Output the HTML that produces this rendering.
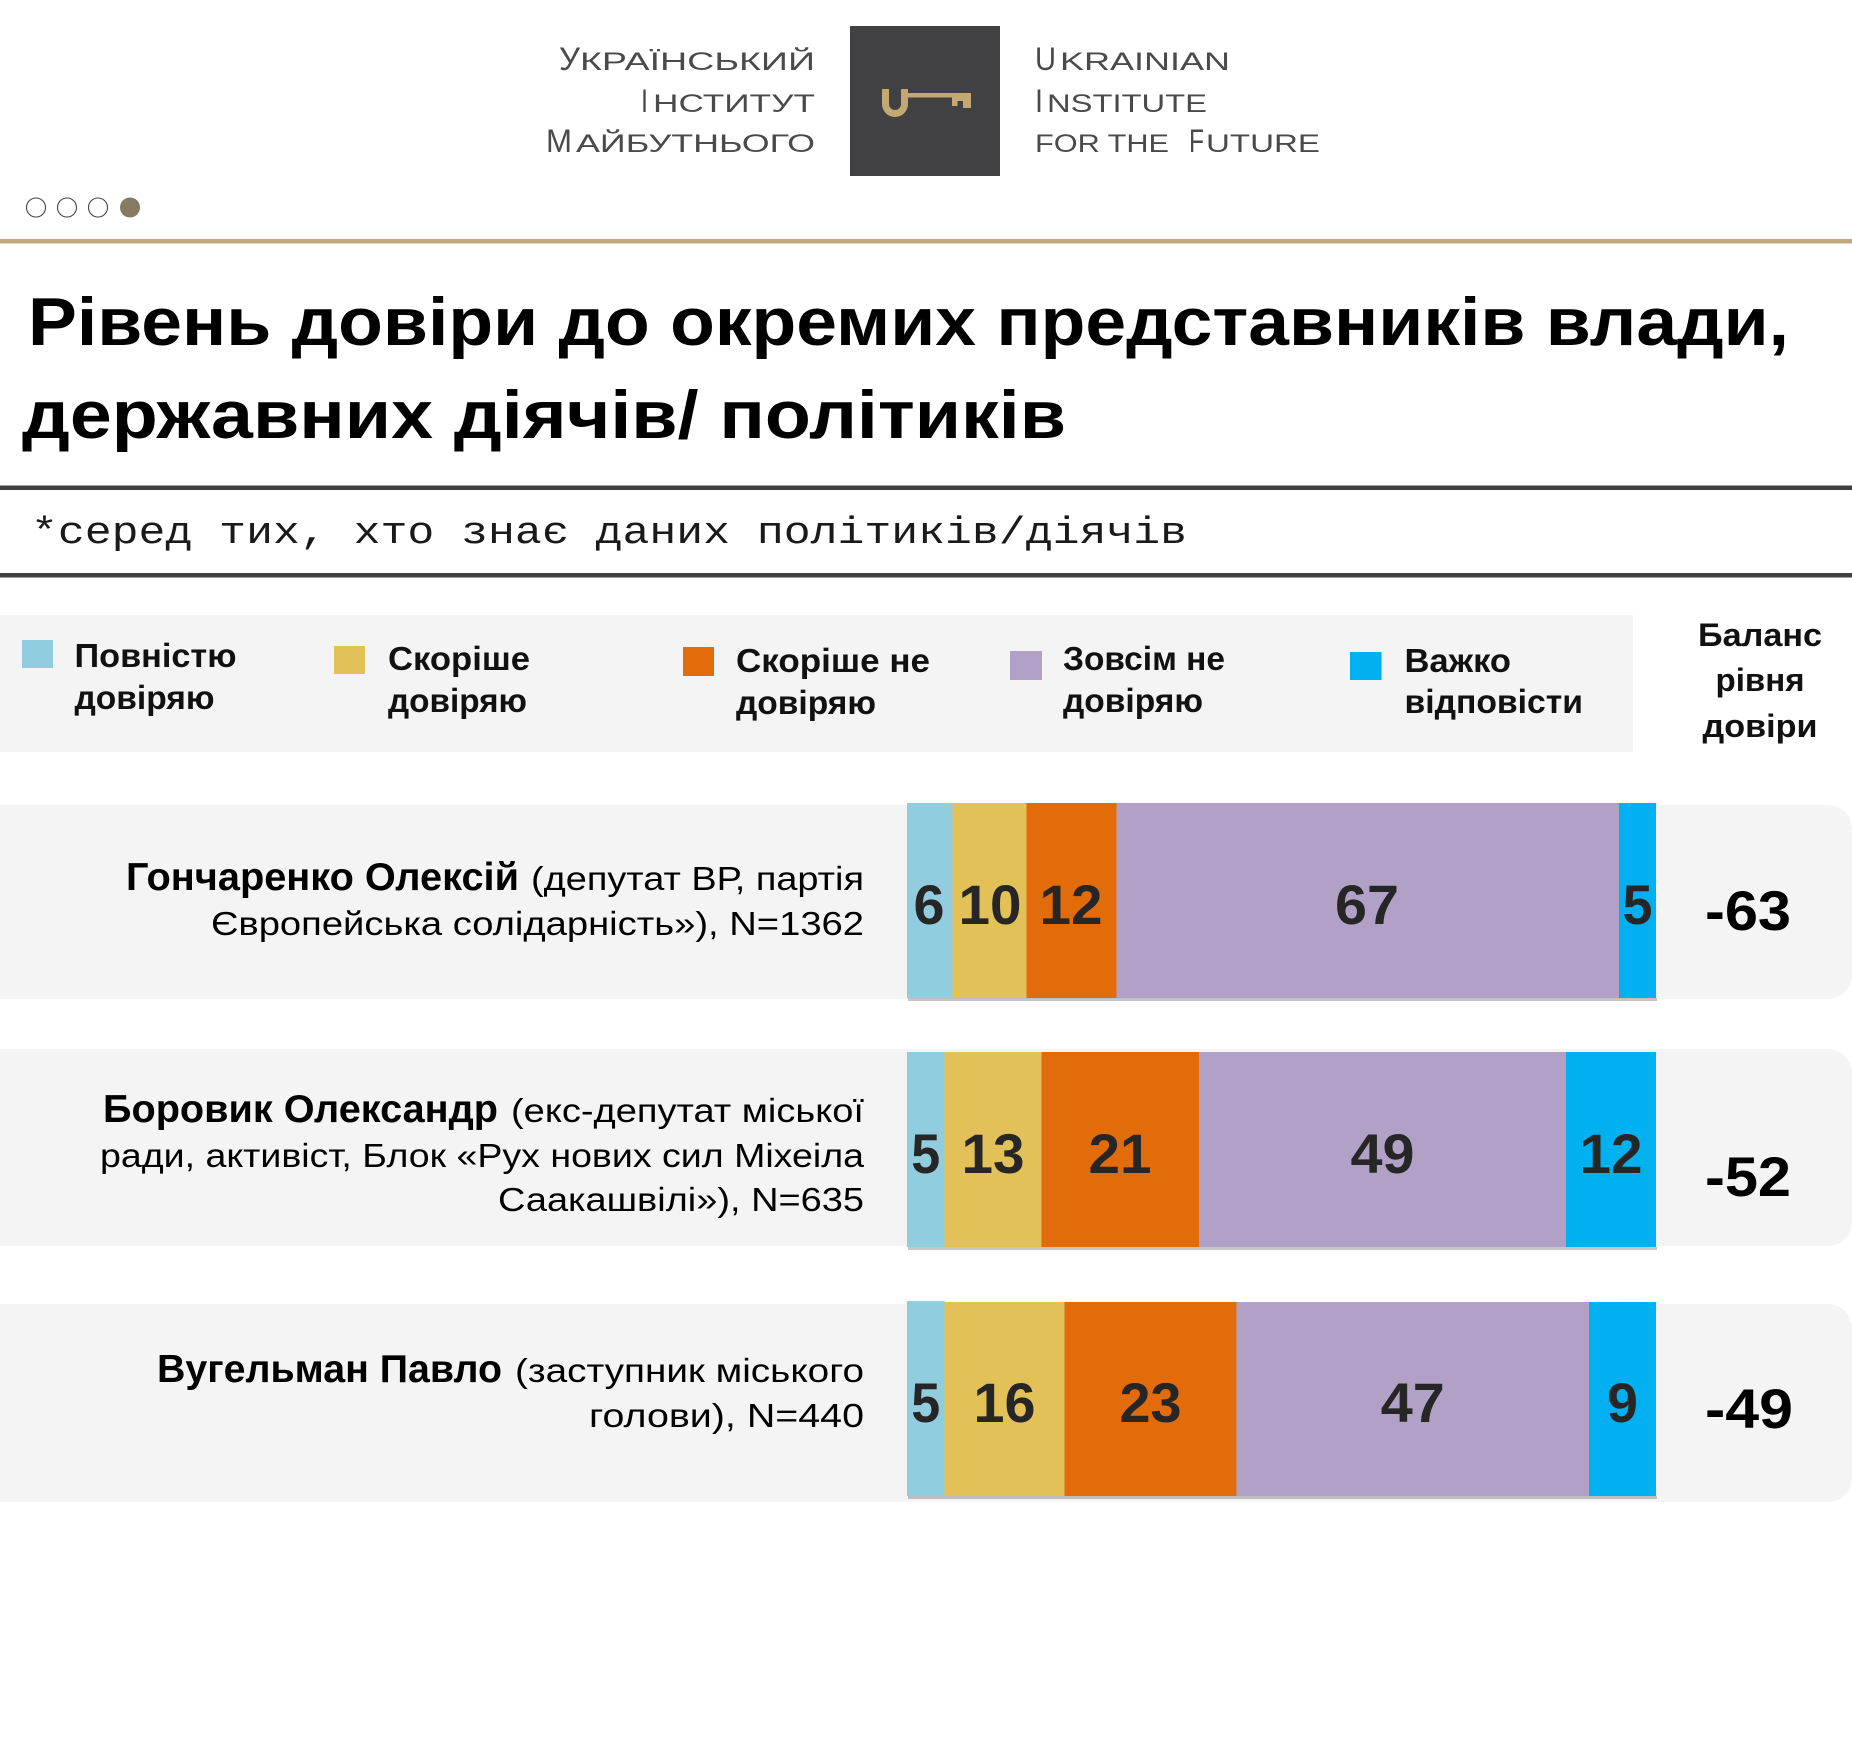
<!DOCTYPE html>
<html>
<head>
<meta charset="utf-8">
<style>
  html,body{margin:0;padding:0;background:#fff;}
  svg{display:block;}
  .sans{font-family:"Liberation Sans","DejaVu Sans",sans-serif;}
  .mono{font-family:"Liberation Mono","DejaVu Sans Mono",monospace;}
</style>
</head>
<body>
<svg width="1852" height="1739" viewBox="0 0 1852 1739" xmlns="http://www.w3.org/2000/svg">
  <rect x="0" y="0" width="1852" height="1739" fill="#ffffff"/>

  <!-- Logo box -->
  <rect x="850" y="26" width="150" height="150" fill="#414042"/>
  <g fill="#c4a872">
    <path d="M882,89 H889 V104 A6,6 0 0 0 901,104 V89 H908 V104 A13,13 0 0 1 882,104 Z"/>
    <rect x="907" y="93" width="64" height="4.5"/>
    <rect x="952" y="93" width="19" height="8"/>
    <rect x="952" y="93" width="5.5" height="13"/>
    <rect x="963" y="93" width="8" height="15"/>
  </g>

  <!-- Logo texts -->
  <g class="sans" fill="#4a4a4a">
    <text x="559" y="70" font-size="32" textLength="21" lengthAdjust="spacingAndGlyphs">У</text>
    <text x="580" y="70" font-size="25" textLength="235" lengthAdjust="spacingAndGlyphs">КРАЇНСЬКИЙ</text>
    <text x="641" y="112" font-size="32" textLength="7" lengthAdjust="spacingAndGlyphs">І</text>
    <text x="653" y="112" font-size="25" textLength="162" lengthAdjust="spacingAndGlyphs">НСТИТУТ</text>
    <text x="546" y="152" font-size="32" textLength="26" lengthAdjust="spacingAndGlyphs">М</text>
    <text x="576" y="152" font-size="25" textLength="239" lengthAdjust="spacingAndGlyphs">АЙБУТНЬОГО</text>

    <text x="1035" y="70" font-size="32" textLength="21" lengthAdjust="spacingAndGlyphs">U</text>
    <text x="1060" y="70" font-size="25" textLength="170" lengthAdjust="spacingAndGlyphs">KRAINIAN</text>
    <text x="1035" y="112" font-size="32" textLength="8" lengthAdjust="spacingAndGlyphs">I</text>
    <text x="1047" y="112" font-size="25" textLength="160" lengthAdjust="spacingAndGlyphs">NSTITUTE</text>
    <text x="1035" y="152" font-size="25" textLength="134" lengthAdjust="spacingAndGlyphs">FOR THE</text>
    <text x="1189" y="152" font-size="32" textLength="15" lengthAdjust="spacingAndGlyphs">F</text>
    <text x="1206" y="152" font-size="25" textLength="114" lengthAdjust="spacingAndGlyphs">UTURE</text>
  </g>

  <!-- Dots -->
  <circle cx="36" cy="207.5" r="9.5" fill="#ffffff" stroke="#444" stroke-width="1.1"/>
  <circle cx="67" cy="207.5" r="9.5" fill="#ffffff" stroke="#444" stroke-width="1.1"/>
  <circle cx="98" cy="207.5" r="9.5" fill="#ffffff" stroke="#444" stroke-width="1.1"/>
  <circle cx="130" cy="207.5" r="10" fill="#857a62"/>

  <!-- Gold line -->
  <rect x="0" y="239" width="1852" height="4.5" fill="#c3a87a"/>

  <!-- Title -->
  <g class="sans" fill="#000" font-weight="bold">
    <text x="28" y="345" font-size="68" textLength="1761" lengthAdjust="spacingAndGlyphs">Рівень довіри до окремих представників влади,</text>
    <text x="22" y="438" font-size="68" textLength="1044" lengthAdjust="spacingAndGlyphs">державних діячів/ політиків</text>
  </g>

  <!-- Dark lines and subtitle -->
  <rect x="0" y="485.5" width="1852" height="4.5" fill="#404040"/>
  <text class="mono" x="31" y="543" font-size="38" fill="#1a1a1a" textLength="1156" lengthAdjust="spacingAndGlyphs">*серед тих, хто знає даних політиків/діячів</text>
  <rect x="0" y="573" width="1852" height="4.5" fill="#404040"/>

  <!-- Legend -->
  <rect x="0" y="615" width="1633" height="137" fill="#f4f4f4"/>
  <rect x="22" y="640" width="31" height="28" fill="#92cddf"/>
  <rect x="334" y="646" width="31" height="28" fill="#e2c158"/>
  <rect x="683" y="647" width="31" height="29" fill="#e36c0a"/>
  <rect x="1010" y="651" width="32" height="29" fill="#b2a1c7"/>
  <rect x="1350" y="652" width="31.5" height="28" fill="#00b0f0"/>
  <g class="sans" fill="#111" font-size="33" font-weight="bold">
    <text x="74.5" y="667" textLength="162" lengthAdjust="spacingAndGlyphs">Повністю</text>
    <text x="74.5" y="709" textLength="140" lengthAdjust="spacingAndGlyphs">довіряю</text>
    <text x="388" y="670" textLength="142" lengthAdjust="spacingAndGlyphs">Скоріше</text>
    <text x="388" y="712" textLength="139" lengthAdjust="spacingAndGlyphs">довіряю</text>
    <text x="736" y="672" textLength="194" lengthAdjust="spacingAndGlyphs">Скоріше не</text>
    <text x="736" y="714" textLength="140" lengthAdjust="spacingAndGlyphs">довіряю</text>
    <text x="1063" y="670" textLength="162" lengthAdjust="spacingAndGlyphs">Зовсім не</text>
    <text x="1063" y="712" textLength="140" lengthAdjust="spacingAndGlyphs">довіряю</text>
    <text x="1404.5" y="672" textLength="106.5" lengthAdjust="spacingAndGlyphs">Важко</text>
    <text x="1404.5" y="713" textLength="178.5" lengthAdjust="spacingAndGlyphs">відповісти</text>
  </g>
  <g class="sans" fill="#111" font-size="32" font-weight="bold" text-anchor="middle">
    <text x="1760" y="646" textLength="124" lengthAdjust="spacingAndGlyphs">Баланс</text>
    <text x="1760" y="691" textLength="89" lengthAdjust="spacingAndGlyphs">рівня</text>
    <text x="1760" y="737" textLength="115" lengthAdjust="spacingAndGlyphs">довіри</text>
  </g>

  <!-- Row backgrounds -->
  <rect x="-40" y="805" width="1892" height="194" rx="24" ry="24" fill="#f4f4f4"/>
  <rect x="-40" y="1049" width="1892" height="197" rx="24" ry="24" fill="#f4f4f4"/>
  <rect x="-40" y="1304" width="1892" height="198" rx="24" ry="24" fill="#f4f4f4"/>

  <!-- Row labels -->
  <g class="sans" fill="#000">
    <text x="126" y="890" font-size="39" font-weight="bold" textLength="393" lengthAdjust="spacingAndGlyphs">Гончаренко Олексій</text>
    <text x="531" y="890" font-size="33" textLength="333" lengthAdjust="spacingAndGlyphs">(депутат ВР, партія</text>
    <text x="211" y="935" font-size="33" textLength="653" lengthAdjust="spacingAndGlyphs">Європейська солідарність»), N=1362</text>

    <text x="103" y="1122" font-size="39" font-weight="bold" textLength="395" lengthAdjust="spacingAndGlyphs">Боровик Олександр</text>
    <text x="511" y="1122" font-size="33" textLength="353" lengthAdjust="spacingAndGlyphs">(екс-депутат міської</text>
    <text x="100" y="1167" font-size="33" textLength="764" lengthAdjust="spacingAndGlyphs">ради, активіст, Блок «Рух нових сил Міхеіла</text>
    <text x="498" y="1211" font-size="33" textLength="366" lengthAdjust="spacingAndGlyphs">Саакашвілі»), N=635</text>

    <text x="157" y="1382" font-size="39" font-weight="bold" textLength="345" lengthAdjust="spacingAndGlyphs">Вугельман Павло</text>
    <text x="515" y="1382" font-size="33" textLength="349" lengthAdjust="spacingAndGlyphs">(заступник міського</text>
    <text x="589" y="1427" font-size="33" textLength="275" lengthAdjust="spacingAndGlyphs">голови), N=440</text>
  </g>

  <!-- Bar shadows -->
  <rect x="908" y="998" width="749" height="3" fill="#000" opacity="0.22"/>
  <rect x="908" y="1247" width="749" height="3" fill="#000" opacity="0.22"/>
  <rect x="908" y="1496" width="749" height="3" fill="#000" opacity="0.22"/>

  <!-- Bar 1 -->
  <rect x="907" y="803" width="45.5" height="195" fill="#92cddf"/>
  <rect x="952.5" y="803" width="74" height="195" fill="#e2c158"/>
  <rect x="1026.5" y="803" width="90" height="195" fill="#e36c0a"/>
  <rect x="1116.5" y="803" width="502.5" height="195" fill="#b2a1c7"/>
  <rect x="1619" y="803" width="37" height="195" fill="#00b0f0"/>

  <!-- Bar 2 -->
  <rect x="907" y="1052" width="37.5" height="195" fill="#92cddf"/>
  <rect x="944.5" y="1052" width="97" height="195" fill="#e2c158"/>
  <rect x="1041.5" y="1052" width="157.5" height="195" fill="#e36c0a"/>
  <rect x="1199" y="1052" width="367" height="195" fill="#b2a1c7"/>
  <rect x="1566" y="1052" width="90" height="195" fill="#00b0f0"/>

  <!-- Bar 3 -->
  <rect x="907" y="1301" width="37.5" height="195" fill="#92cddf"/>
  <rect x="944.5" y="1302" width="120" height="194" fill="#e2c158"/>
  <rect x="1064.5" y="1302" width="172" height="194" fill="#e36c0a"/>
  <rect x="1236.5" y="1302" width="352.5" height="194" fill="#b2a1c7"/>
  <rect x="1589" y="1302" width="67" height="194" fill="#00b0f0"/>

  <!-- Bar numbers -->
  <g class="sans" fill="#262626" font-size="56" font-weight="bold" text-anchor="middle">
    <text x="929" y="924" textLength="31" lengthAdjust="spacingAndGlyphs">6</text>
    <text x="990" y="924" textLength="63" lengthAdjust="spacingAndGlyphs">10</text>
    <text x="1071" y="924" textLength="63" lengthAdjust="spacingAndGlyphs">12</text>
    <text x="1367" y="924" textLength="64" lengthAdjust="spacingAndGlyphs">67</text>
    <text x="1637.5" y="924" textLength="30" lengthAdjust="spacingAndGlyphs">5</text>

    <text x="925.8" y="1173" textLength="29" lengthAdjust="spacingAndGlyphs">5</text>
    <text x="993" y="1173" textLength="63" lengthAdjust="spacingAndGlyphs">13</text>
    <text x="1120" y="1173" textLength="63" lengthAdjust="spacingAndGlyphs">21</text>
    <text x="1382.5" y="1173" textLength="64" lengthAdjust="spacingAndGlyphs">49</text>
    <text x="1611" y="1173" textLength="63" lengthAdjust="spacingAndGlyphs">12</text>

    <text x="925.8" y="1422" textLength="29" lengthAdjust="spacingAndGlyphs">5</text>
    <text x="1004.5" y="1422" textLength="62" lengthAdjust="spacingAndGlyphs">16</text>
    <text x="1150.5" y="1422" textLength="62" lengthAdjust="spacingAndGlyphs">23</text>
    <text x="1412.8" y="1422" textLength="64" lengthAdjust="spacingAndGlyphs">47</text>
    <text x="1622.5" y="1422" textLength="31" lengthAdjust="spacingAndGlyphs">9</text>
  </g>

  <!-- Balance -->
  <g class="sans" fill="#000" font-size="56" font-weight="bold">
    <text x="1705" y="930" textLength="86" lengthAdjust="spacingAndGlyphs">-63</text>
    <text x="1705" y="1196" textLength="86" lengthAdjust="spacingAndGlyphs">-52</text>
    <text x="1705" y="1428" textLength="88" lengthAdjust="spacingAndGlyphs">-49</text>
  </g>
</svg>
</body>
</html>
